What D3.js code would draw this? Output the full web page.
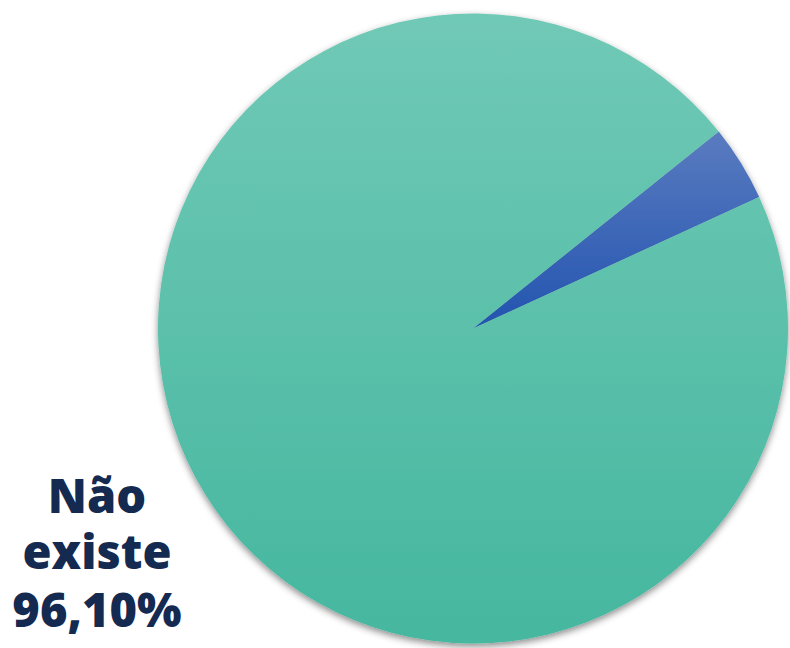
<!DOCTYPE html>
<html>
<head>
<meta charset="utf-8">
<script src="https://cdn.jsdelivr.net/npm/d3@7"></script>
<style>
html,body{margin:0;padding:0;background:#fff;}
svg{display:block;}
</style>
</head>
<body>
<svg id="chart" width="790" height="648"></svg>
<script>
const categories = ["Existe", "Não existe"];
const values = [3.90, 96.10];
const labelLines = ["Não", "existe", "96,10%"];

const W = 790, H = 648;
const cx = 473, cy = 328.5, R = 315;
const startDeg = 51.27;

const svg = d3.select("#chart");
const defs = svg.append("defs");

const f = defs.append("filter").attr("id","shadow")
  .attr("x","-10%").attr("y","-10%").attr("width","120%").attr("height","125%");
f.append("feDropShadow").attr("dx",0).attr("dy",3).attr("stdDeviation",3.5)
  .attr("flood-color","#000").attr("flood-opacity",0.45);

const grads = {
  "Existe": ["#5a7bc0", "#2254af"],
  "Não existe": ["#70c9b6", "#46b79f"]
};
categories.forEach((c,i)=>{
  const g = defs.append("linearGradient").attr("id","g"+i)
    .attr("x1",0).attr("y1",0).attr("x2",0).attr("y2",1);
  g.append("stop").attr("offset","0%").attr("stop-color",grads[c][0]);
  g.append("stop").attr("offset","100%").attr("stop-color",grads[c][1]);
});

const a0 = startDeg*Math.PI/180;
const pie = d3.pie().sort(null).value(d=>d.v).startAngle(a0).endAngle(a0+2*Math.PI);
const data = categories.map((c,i)=>({c, v: values[i], i}));
const arc = d3.arc().innerRadius(0).outerRadius(R);

const g = svg.append("g").attr("transform",`translate(${cx},${cy})`).attr("filter","url(#shadow)");
g.selectAll("path").data(pie(data)).join("path")
  .attr("d", arc)
  .attr("fill", d=>`url(#g${d.data.i})`);

const t = svg.append("text")
  .attr("text-anchor","middle")
  .attr("font-family","'Open Sans', sans-serif")
  .attr("font-weight",800)
  .attr("font-size",47)
  .attr("fill","#152a50");
const baselines = [513, 569, 627];
labelLines.forEach((s,i)=>{
  t.append("tspan").attr("x",97).attr("y",baselines[i]).text(s);
});
</script>
</body>
</html>
